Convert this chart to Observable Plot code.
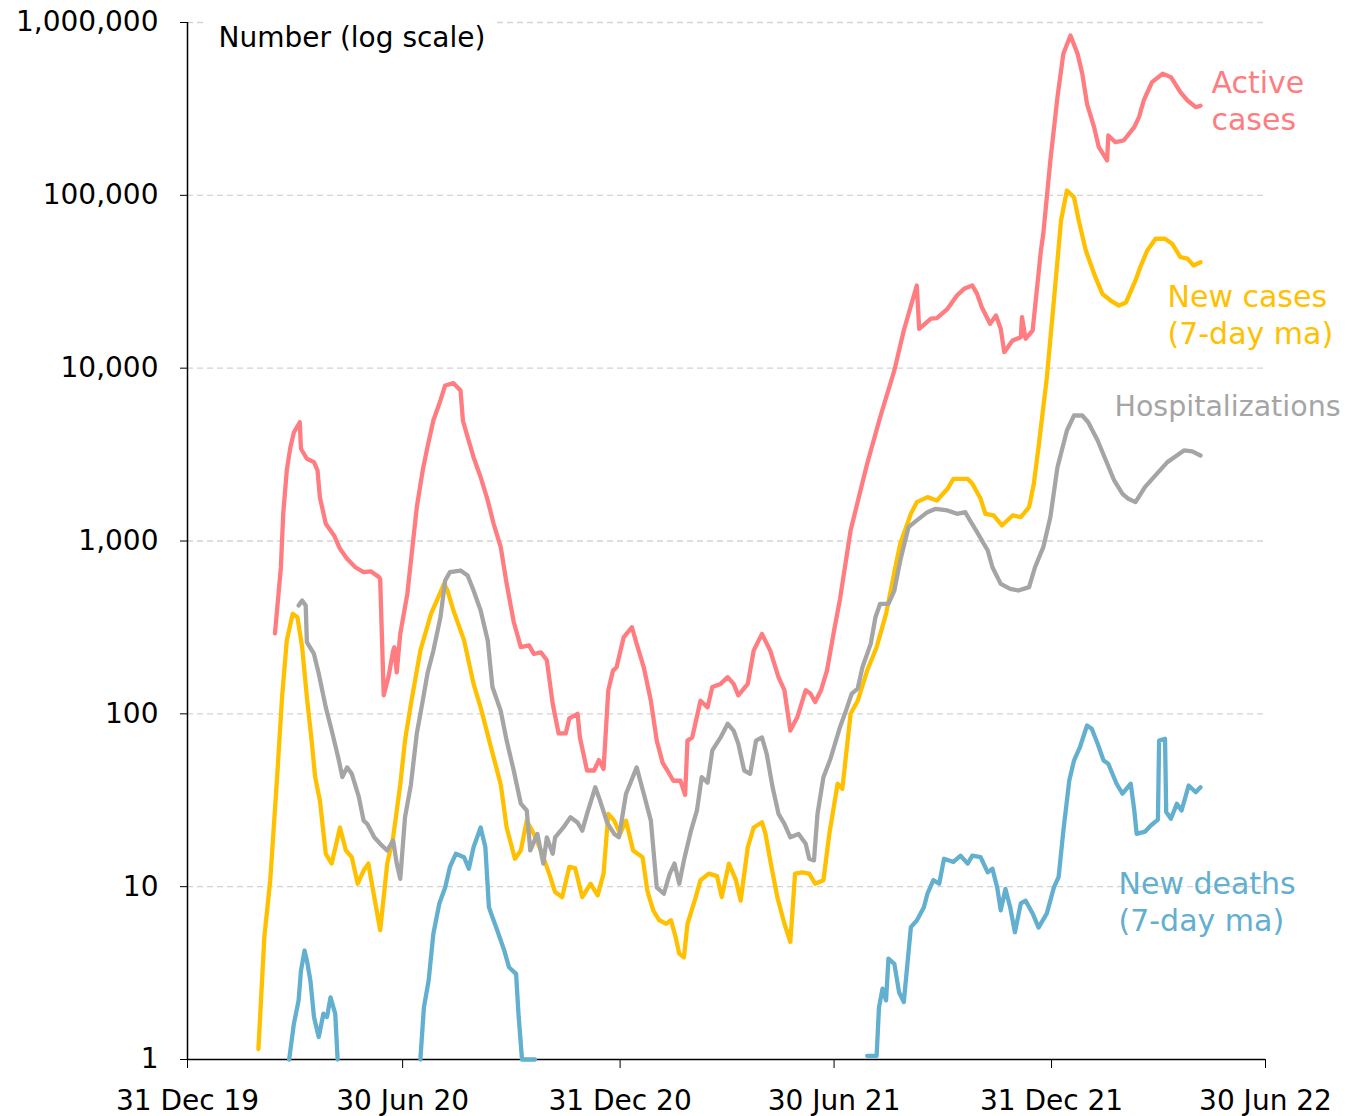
<!DOCTYPE html>
<html><head><meta charset="utf-8">
<script src="https://cdn.jsdelivr.net/npm/d3@7"></script>
<script src="https://cdn.jsdelivr.net/npm/@observablehq/plot@0.6"></script>
<style>body{margin:0;background:#fff}#chart{width:1355px;height:1116px}</style>
</head><body><div id="chart"></div>
<script>
// Series: [date, value]
const activeCases = [["2020-03-14",292],["2020-03-19",703],["2020-03-21",1443],["2020-03-24",2560],["2020-03-27",3475],["2020-03-30",4246],["2020-04-04",4866],["2020-04-05",3418],["2020-04-10",2992],["2020-04-16",2860],["2020-04-19",2560],["2020-04-21",1792],["2020-04-26",1258],["2020-05-03",1077],["2020-05-08",901],["2020-05-14",789],["2020-05-21",705],["2020-05-28",661],["2020-06-03",668],["2020-06-10",618],["2020-06-11",604],["2020-06-14",128],["2020-06-18",163],["2020-06-22",232],["2020-06-23",243],["2020-06-25",174],["2020-06-28",290],["2020-07-04",495],["2020-07-08",881],["2020-07-12",1570],["2020-07-17",2560],["2020-07-21",3493],["2020-07-26",4982],["2020-08-01",6504],["2020-08-05",7943],["2020-08-12",8189],["2020-08-18",7421],["2020-08-20",4982],["2020-08-24",3992],["2020-08-29",3055],["2020-09-04",2340],["2020-09-10",1716],["2020-09-15",1258],["2020-09-21",921],["2020-09-26",566],["2020-10-02",340],["2020-10-08",243],["2020-10-15",249],["2020-10-19",222],["2020-10-25",227],["2020-10-30",204],["2020-11-04",114],["2020-11-09",77],["2020-11-15",77],["2020-11-18",94],["2020-11-25",100],["2020-11-27",73],["2020-12-03",47],["2020-12-09",47],["2020-12-13",54],["2020-12-17",48],["2020-12-21",137],["2020-12-25",178],["2020-12-28",186],["2021-01-03",277],["2021-01-10",317],["2021-01-14",254],["2021-01-20",186],["2021-01-26",119],["2021-01-31",70],["2021-02-05",52],["2021-02-09",47],["2021-02-14",41],["2021-02-20",41],["2021-02-24",34],["2021-02-26",70],["2021-03-02",73],["2021-03-09",119],["2021-03-15",109],["2021-03-19",143],["2021-03-26",149],["2021-04-01",163],["2021-04-06",149],["2021-04-10",128],["2021-04-18",149],["2021-04-23",232],["2021-04-30",290],["2021-05-07",232],["2021-05-14",163],["2021-05-19",137],["2021-05-24",80],["2021-05-30",96],["2021-06-06",137],["2021-06-10",131],["2021-06-14",117],["2021-06-19",137],["2021-06-24",178],["2021-06-30",303],["2021-07-05",460],["2021-07-14",1151],["2021-07-28",2798],["2021-08-08",5202],["2021-08-20",9706],["2021-08-28",16520],["2021-09-08",30090],["2021-09-10",16900],["2021-09-20",19320],["2021-09-25",19500],["2021-10-04",22040],["2021-10-12",26320],["2021-10-18",28780],["2021-10-25",30090],["2021-10-29",26910],["2021-11-02",22530],["2021-11-09",18060],["2021-11-14",20180],["2021-11-18",16900],["2021-11-21",12370],["2021-11-28",14450],["2021-12-05",15100],["2021-12-06",19720],["2021-12-09",14800],["2021-12-15",16520],["2021-12-22",47950],["2021-12-24",59840],["2021-12-30",159200],["2022-01-05",370000],["2022-01-10",659000],["2022-01-16",841000],["2022-01-22",659000],["2022-01-26",505000],["2022-01-30",338700],["2022-02-05",247900],["2022-02-09",190000],["2022-02-16",159200],["2022-02-17",222000],["2022-02-23",203000],["2022-03-02",207600],["2022-03-11",247900],["2022-03-15",283200],["2022-03-19",353800],["2022-03-26",451600],["2022-04-04",505000],["2022-04-11",483000],["2022-04-19",395000],["2022-04-25",353800],["2022-05-02",323600],["2022-05-06",330000]];

const newCases = [["2020-02-29",1.15],["2020-03-05",5.1],["2020-03-10",10.9],["2020-03-16",45],["2020-03-20",125],["2020-03-24",266],["2020-03-29",379],["2020-04-02",362],["2020-04-06",243],["2020-04-10",125],["2020-04-14",70],["2020-04-17",43],["2020-04-21",31.5],["2020-04-26",15.5],["2020-05-01",13.6],["2020-05-08",22],["2020-05-13",16.2],["2020-05-18",14.8],["2020-05-23",10.4],["2020-05-28",12.4],["2020-06-01",13.6],["2020-06-06",8.7],["2020-06-11",5.6],["2020-06-17",13.6],["2020-06-22",19.3],["2020-06-28",39],["2020-07-02",70],["2020-07-07",114],["2020-07-15",232],["2020-07-24",379],["2020-07-29",453],["2020-08-04",566],["2020-08-07",517],["2020-08-12",396],["2020-08-21",266],["2020-08-29",149],["2020-09-04",109],["2020-09-12",67],["2020-09-15",56],["2020-09-21",39],["2020-09-26",22],["2020-10-03",14.5],["2020-10-08",16.2],["2020-10-13",24.1],["2020-10-19",20.2],["2020-10-25",16.2],["2020-11-01",11.9],["2020-11-06",9.3],["2020-11-12",8.7],["2020-11-18",13],["2020-11-23",12.8],["2020-11-29",8.7],["2020-12-06",10.4],["2020-12-12",8.9],["2020-12-17",11.9],["2020-12-21",26.4],["2020-12-26",24.1],["2020-12-31",20.2],["2021-01-05",24.1],["2021-01-11",16.2],["2021-01-19",14.8],["2021-01-23",9.5],["2021-01-28",7.3],["2021-02-02",6.4],["2021-02-08",6.1],["2021-02-12",6.4],["2021-02-16",5.1],["2021-02-19",4.1],["2021-02-23",3.9],["2021-02-26",6.1],["2021-03-05",8.7],["2021-03-09",10.9],["2021-03-16",11.9],["2021-03-23",11.5],["2021-03-27",8.7],["2021-04-02",13.6],["2021-04-08",10.9],["2021-04-12",8.3],["2021-04-18",16.9],["2021-04-23",22],["2021-04-30",23.6],["2021-05-03",20.2],["2021-05-07",14.2],["2021-05-13",8.7],["2021-05-19",6.1],["2021-05-24",4.8],["2021-05-28",11.9],["2021-06-03",12.1],["2021-06-09",11.9],["2021-06-14",10.4],["2021-06-21",10.9],["2021-06-26",20.2],["2021-07-03",39.4],["2021-07-07",36.8],["2021-07-14",100],["2021-07-20",119],["2021-07-28",178],["2021-08-05",243],["2021-08-13",379],["2021-08-22",771],["2021-08-25",963],["2021-09-03",1437],["2021-09-08",1679],["2021-09-17",1794],["2021-09-25",1716],["2021-10-04",2004],["2021-10-09",2291],["2021-10-21",2291],["2021-10-25",2143],["2021-11-01",1754],["2021-11-05",1437],["2021-11-12",1405],["2021-11-19",1230],["2021-11-28",1405],["2021-12-05",1375],["2021-12-12",1570],["2021-12-16",2143],["2021-12-20",3493],["2021-12-27",8800],["2022-01-03",29440],["2022-01-08",71500],["2022-01-13",106600],["2022-01-19",97500],["2022-01-23",71500],["2022-01-29",47950],["2022-02-05",35150],["2022-02-12",26910],["2022-02-19",24620],["2022-02-26",23030],["2022-03-04",24000],["2022-03-12",32190],["2022-03-16",38370],["2022-03-22",47950],["2022-03-29",56070],["2022-04-06",56070],["2022-04-12",52480],["2022-04-19",43880],["2022-04-25",43000],["2022-04-30",39290],["2022-05-06",41000]];

const hospitalizations = [["2020-04-03",424],["2020-04-06",453],["2020-04-09",424],["2020-04-10",260],["2020-04-16",222],["2020-04-20",171],["2020-04-26",109],["2020-05-01",80],["2020-05-07",54],["2020-05-10",43],["2020-05-14",49],["2020-05-18",45],["2020-05-24",33],["2020-05-28",24.1],["2020-05-31",23.1],["2020-06-06",19.3],["2020-06-11",17.7],["2020-06-17",16.2],["2020-06-22",18.5],["2020-06-25",13.6],["2020-06-28",11.1],["2020-07-02",25.2],["2020-07-07",39],["2020-07-12",77],["2020-07-17",119],["2020-07-21",171],["2020-07-26",232],["2020-08-01",362],["2020-08-05",591],["2020-08-09",661],["2020-08-18",675],["2020-08-24",631],["2020-08-29",517],["2020-09-04",396],["2020-09-10",266],["2020-09-14",143],["2020-09-21",104],["2020-09-26",70],["2020-10-02",47],["2020-10-08",30.2],["2020-10-13",27.6],["2020-10-16",16.2],["2020-10-22",20.2],["2020-10-27",13.6],["2020-10-30",19.3],["2020-11-04",15.5],["2020-11-06",19.3],["2020-11-13",22],["2020-11-19",25.2],["2020-11-25",23.5],["2020-11-29",21.1],["2020-12-03",26.4],["2020-12-10",37.6],["2020-12-14",31.5],["2020-12-20",23.5],["2020-12-26",20.2],["2020-12-30",19.3],["2021-01-05",34.5],["2021-01-14",49],["2021-01-20",34.5],["2021-01-26",24.1],["2021-01-31",9.9],["2021-02-06",9.1],["2021-02-11",11.9],["2021-02-15",13.6],["2021-02-19",10.4],["2021-02-23",14.2],["2021-03-01",21.1],["2021-03-06",27.6],["2021-03-10",43],["2021-03-15",40],["2021-03-19",61.4],["2021-03-26",73],["2021-04-01",87.6],["2021-04-06",80],["2021-04-10",67],["2021-04-15",47],["2021-04-20",45],["2021-04-25",70],["2021-04-30",73],["2021-05-04",58.7],["2021-05-09",37.6],["2021-05-14",26.4],["2021-05-19",23.1],["2021-05-24",19.3],["2021-05-31",20.2],["2021-06-06",17.7],["2021-06-09",14.5],["2021-06-13",14.2],["2021-06-16",26.4],["2021-06-21",43],["2021-06-27",55],["2021-07-05",83.7],["2021-07-10",104],["2021-07-15",131],["2021-07-20",140],["2021-07-24",186],["2021-07-31",254],["2021-08-04",362],["2021-08-08",433],["2021-08-15",433],["2021-08-20",517],["2021-08-25",771],["2021-09-01",1203],["2021-09-08",1315],["2021-09-17",1469],["2021-09-24",1535],["2021-10-04",1503],["2021-10-12",1437],["2021-10-19",1469],["2021-10-23",1315],["2021-10-29",1125],["2021-11-07",881],["2021-11-11",705],["2021-11-18",565],["2021-11-26",529],["2021-12-03",517],["2021-12-12",541],["2021-12-17",705],["2021-12-24",921],["2021-12-30",1375],["2022-01-05",2673],["2022-01-13",4357],["2022-01-19",5322],["2022-01-26",5322],["2022-01-31",4866],["2022-02-08",3816],["2022-02-15",2924],["2022-02-22",2240],["2022-03-01",1876],["2022-03-06",1754],["2022-03-12",1679],["2022-03-20",2048],["2022-03-30",2448],["2022-04-08",2860],["2022-04-16",3126],["2022-04-22",3342],["2022-04-29",3300],["2022-05-06",3126]];

// null marks a gap (no deaths recorded)
const newDeaths = [["2020-03-26",1],["2020-03-30",1.61],["2020-04-03",2.2],["2020-04-05",3.27],["2020-04-08",4.27],["2020-04-10",3.74],["2020-04-13",2.86],["2020-04-16",1.76],["2020-04-20",1.35],["2020-04-24",1.84],["2020-04-27",1.76],["2020-04-30",2.29],["2020-05-04",1.84],["2020-05-06",1],["2020-06-10",null],["2020-07-15",1],["2020-07-18",2.0],["2020-07-22",2.86],["2020-07-26",5.34],["2020-07-31",7.96],["2020-08-05",9.9],["2020-08-09",13],["2020-08-14",15.5],["2020-08-21",14.8],["2020-08-25",12.7],["2020-08-29",16.9],["2020-09-04",22],["2020-09-08",16.9],["2020-09-11",7.6],["2020-09-18",5.6],["2020-09-24",4.27],["2020-09-28",3.42],["2020-10-04",3.13],["2020-10-06",1.84],["2020-10-09",1],["2020-10-20",1],["2021-01-01",null],["2021-07-28",1.05],["2021-08-05",1.05],["2021-08-07",2.0],["2021-08-10",2.57],["2021-08-13",2.2],["2021-08-15",3.83],["2021-08-20",3.58],["2021-08-24",2.45],["2021-08-28",2.15],["2021-09-03",5.83],["2021-09-08",6.37],["2021-09-14",7.6],["2021-09-17",9.1],["2021-09-22",10.9],["2021-09-27",10.4],["2021-10-01",14.5],["2021-10-09",13.9],["2021-10-15",15.1],["2021-10-21",13.6],["2021-10-25",15.1],["2021-11-01",14.8],["2021-11-07",12.1],["2021-11-11",12.7],["2021-11-15",9.9],["2021-11-18",7.3],["2021-11-22",9.7],["2021-11-26",7.6],["2021-11-30",5.45],["2021-12-05",8.0],["2021-12-09",8.3],["2021-12-15",7.0],["2021-12-20",5.8],["2021-12-27",7.0],["2022-01-02",9.9],["2022-01-06",11.4],["2022-01-10",21.1],["2022-01-15",41.1],["2022-01-19",53.7],["2022-01-24",64.1],["2022-01-30",85.6],["2022-02-03",81.9],["2022-02-08",67.1],["2022-02-13",53.7],["2022-02-17",51.4],["2022-02-24",39.4],["2022-03-01",34.5],["2022-03-08",39.4],["2022-03-11",27.6],["2022-03-13",20.2],["2022-03-20",20.8],["2022-03-25",22.6],["2022-03-30",24.1],["2022-03-31",24.5],["2022-04-01",70.1],["2022-04-06",71.7],["2022-04-07",27],["2022-04-11",24.7],["2022-04-16",30.2],["2022-04-20",27.6],["2022-04-26",38.5],["2022-05-02",35.2],["2022-05-06",37.6]];

const seriesNames = ["Active\ncases", "New cases\n(7-day ma)", "Hospitalizations", "New deaths\n(7-day ma)"];
const seriesColors = ["#ff7c80", "#ffc000", "#a5a5a5", "#62afcf"];
const xTickDates = ["2019-12-31", "2020-06-30", "2020-12-31", "2021-06-30", "2021-12-31", "2022-06-30"];
const yTicks = [1, 10, 100, 1000, 10000, 100000, 1000000];
const yAxisLabel = "Number (log scale)";

const parse = d3.utcParse("%Y-%m-%d");
const toRows = arr => arr.map(([d, v]) => ({date: parse(d), value: v}));
const seriesData = [activeCases, newCases, hospitalizations, newDeaths].map(toRows);
// label offsets and sizes (style) relative to each series' last point
const labelOffsets = [[11, -6], [-33, 51], [-86, -51], [-82, 113]];
const labelSizes = [30, 30, 28.5, 30];

const font = "'Century Gothic', 'URW Gothic', 'DejaVu Sans', sans-serif";
const xTicks = xTickDates.map(parse);

const marks = [
  Plot.ruleY(yTicks.slice(1), {stroke: "#d4d4d4", strokeWidth: 1.3, strokeDasharray: "6,4"}),
  Plot.text([yAxisLabel], {frameAnchor: "top-left", dx: 31, dy: 16, textAnchor: "start", lineAnchor: "middle",
    fill: "black", stroke: "white", strokeWidth: 34, fontSize: 28}),
  Plot.ruleX([xTicks[0]], {stroke: "black", strokeWidth: 1.5}),
  Plot.ruleY([1], {stroke: "black", strokeWidth: 1.5}),
  Plot.axisY({ticks: yTicks, tickFormat: d3.format(","), tickSize: 7, tickPadding: 22, fontSize: 28, label: null, stroke: "black"}),
  Plot.axisX({ticks: xTicks, tickFormat: d3.utcFormat("%d %b %y"), tickSize: 9, tickPadding: 22, fontSize: 28, label: null, stroke: "black"})
];
seriesData.forEach((rows, i) => {
  marks.push(Plot.line(rows, {x: "date", y: "value", stroke: seriesColors[i], strokeWidth: 4.3, strokeLinejoin: "round", strokeLinecap: "round"}));
});
seriesData.forEach((rows, i) => {
  const last = rows[rows.length - 1];
  marks.push(Plot.text([last], {x: "date", y: "value", text: () => seriesNames[i], fill: seriesColors[i],
    dx: labelOffsets[i][0], dy: labelOffsets[i][1], textAnchor: "start", lineAnchor: "middle", lineHeight: 1.25, fontSize: labelSizes[i]}));
});

const chart = Plot.plot({
  width: 1355, height: 1116,
  marginLeft: 187, marginRight: 90, marginTop: 22, marginBottom: 57,
  style: {fontFamily: font, fontSize: "28px", color: "black", background: "white", overflow: "visible"},
  x: {type: "utc", domain: [xTicks[0], xTicks[xTicks.length - 1]]},
  y: {type: "log", domain: [1, 1e6]},
  marks
});
document.getElementById("chart").appendChild(chart);
</script>
</body></html>
